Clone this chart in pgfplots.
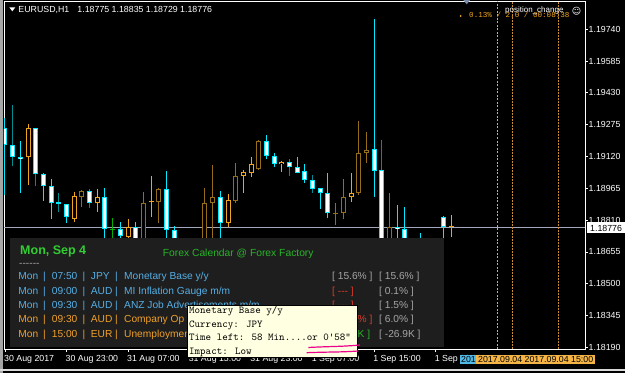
\documentclass[border=0pt]{standalone}
\usepackage{pgfplots}
\pgfplotsset{compat=1.18}
\usepackage{pgfplotstable}
\usepackage{fontspec}
\setmainfont{Liberation Sans}
\newfontfamily\dejavu{DejaVu Sans}
\newfontfamily\lmono{Liberation Mono}
\newcommand\fs[1]{\fontsize{#1}{#1}\selectfont}
\definecolor{bullc}{RGB}{0,235,255}
\definecolor{tealc}{RGB}{0,140,145}
\definecolor{bearc}{RGB}{240,165,30}
\definecolor{beard}{RGB}{150,110,25}
\definecolor{dojig}{RGB}{0,175,0}
\definecolor{bidc}{RGB}{160,168,185}
\definecolor{panel}{RGB}{30,30,30}
\definecolor{calblue}{RGB}{85,175,230}
\definecolor{calorange}{RGB}{240,160,40}
\definecolor{calgray}{RGB}{165,165,165}
\definecolor{calred}{RGB}{220,60,40}
\definecolor{calgreen}{RGB}{40,180,40}
\definecolor{titlegreen}{RGB}{50,205,50}
\definecolor{tipbg}{RGB}{255,255,225}
\definecolor{vlcyan}{RGB}{110,200,230}
\definecolor{vlorange}{RGB}{200,140,50}
\definecolor{boxblue}{RGB}{80,185,230}
\definecolor{boxorange}{RGB}{245,180,70}
\definecolor{tri}{RGB}{120,140,170}

% candles: x (bar index), high, body top, body bottom, low
\pgfplotstableread{
x h bt bb l
0 1.19308 1.19259 1.19176 1.18932
2 1.19196 1.19120 1.19110 1.18942
5 1.19039 1.19033 1.18976 1.18905
6 1.19010 1.18978 1.18892 1.18817
8 1.18887 1.18887 1.18827 1.18797
13 1.18965 1.18921 1.18765 1.18664
15 1.18801 1.18767 1.18733 1.18664
17 1.18801 1.18775 1.18664 1.18640
21 1.19049 1.18960 1.18762 1.18664
22 1.18781 1.18762 1.18664 1.18616
28 1.18952 1.18921 1.18794 1.18664
34 1.19225 1.19197 1.19122 1.19106
35 1.19136 1.19122 1.19082 1.19067
38 1.19119 1.19067 1.19041 1.19038
39 1.19084 1.19049 1.19005 1.18992
41 1.18965 1.18965 1.18941 1.18863
42 1.19041 1.18941 1.18843 1.18819
48 1.19790 1.19155 1.19051 1.18924
51 1.18884 1.18775 1.18765 1.18664
52 1.18875 1.18767 1.18664 1.18616
54 1.18749 1.18713 1.18640 1.18591
57 1.18830 1.18827 1.18775 1.18664
}\bullA
\pgfplotstableread{
x h bt bb l
1 1.19371 1.19176 1.19118 1.19074
4 1.19258 1.19258 1.19033 1.18976
7 1.18942 1.18896 1.18889 1.18851
11 1.18962 1.18952 1.18895 1.18870
37 1.19106 1.19092 1.19067 1.19026
40 1.19030 1.19005 1.18960 1.18944
49 1.19200 1.19054 1.18664 1.18616
}\bullB
\pgfplotstableread{
x h bt bb l
3 1.19278 1.19258 1.19116 1.18981
9 1.18948 1.18927 1.18817 1.18802
12 1.18962 1.18921 1.18895 1.18851
16 1.18814 1.18775 1.18729 1.18664
19 1.19025 1.18905 1.18898 1.18827
29 1.18937 1.18908 1.18794 1.18778
31 1.19054 1.19046 1.19025 1.18941
32 1.19119 1.19084 1.19041 1.19019
36 1.19100 1.19093 1.19082 1.19046
45 1.19038 1.18941 1.18921 1.18900
58 1.18835 1.18776 1.18775 1.18729
}\bearA
\pgfplotstableread{
x h bt bb l
10 1.18957 1.18952 1.18924 1.18875
18 1.18946 1.18892 1.18664 1.18616
20 1.18965 1.18960 1.18900 1.18797
26 1.18965 1.18892 1.18664 1.18616
27 1.19079 1.18921 1.18892 1.18664
30 1.19087 1.19025 1.18905 1.18892
33 1.19200 1.19197 1.19058 1.19054
43 1.18892 1.18846 1.18840 1.18786
44 1.19009 1.18921 1.18846 1.18814
46 1.19293 1.19136 1.18941 1.18932
47 1.19241 1.19152 1.19136 1.19087
50 1.18941 1.18775 1.18664 1.18616
}\bearB
\pgfplotstableread{
x h bt bb l
14 1.18819 1.18769 1.18764 1.18664
}\dojiG

\pgfplotsset{
  candle/.style 2 args={draw=none, forget plot, error bars/.cd, y dir=plus, y explicit,
    error mark=none, error bar style={draw=#1, line width=#2}},
}
\newcommand\candles[4]{%
  \addplot[candle={#2}{1pt}] table[x=x, y=l, y error expr=\thisrow{h}-\thisrow{l}] {#1};
  \addplot[candle={#3}{5pt}] table[x=x, y=bb, y error expr={max(\thisrow{bt}-\thisrow{bb},0.00005)}] {#1};
  \addplot[candle={#4}{3pt}] table[x=x, y expr=\thisrow{bb}+0.0000487, y error expr={max(\thisrow{bt}-\thisrow{bb}-0.0000975,0)}] {#1};
}
\tikzset{
  lab/.style={anchor=base west, inner sep=0pt},
  cal/.style={lab, font=\fs{10.2}},
  tip/.style={lab, text=black, font=\ttfamily\fs{10.5}},
}
\newcommand\calrow[8]{%
  \node[cal, text=#2] at (18.3,#1) {Mon};
  \node[cal, text=#2] at (43,#1) {|};
  \node[cal, text=#2] at (51.7,#1) {#3};
  \node[cal, text=#2] at (82.3,#1) {|};
  \node[cal, text=#2] at (90.7,#1) {#4};
  \node[cal, text=#2] at (114.8,#1) {|};
  \node[cal, text=#2] at (124,#1) {#5};
  \node[cal, text=#6] at (332,#1) {#7};
  \node[cal, text=calgray] at (379,#1) {#8};
}

\begin{document}
\begin{tikzpicture}
\useasboundingbox (0,0) rectangle (625pt,373pt);
\fill[black] (0,0) rectangle (625pt,373pt);
\begin{axis}[
  at={(4pt,24pt)}, anchor=south west,
  scale only axis, width=581pt, height=348pt,
  xmin=-0.13, xmax=75.42, ymin=1.181818, ymax=1.198779,
  axis line style={white, line width=0.8pt},
  xtick pos=left, ytick pos=right,
  tick align=outside, major tick length=3pt,
  tick style={white, line width=0.8pt},
  minor tick num=0,
  /pgf/number format/assume math mode=true,
  ytick={1.18190,1.18345,1.18500,1.18655,1.18810,1.18965,1.19120,1.19275,1.19430,1.19585,1.19740},
  yticklabels={1.18190,1.18345,1.18500,1.18655,1.18810,1.18965,1.19120,1.19275,1.19430,1.19585,1.19740},
  yticklabel style={font=\fs{8.8}, text=white, anchor=west, inner sep=0pt, xshift=0.5pt},
  xtick={0,8,16,24,32,40,48,56},
  xticklabels={30 Aug 2017,30 Aug 23:00,31 Aug 07:00,31 Aug 15:00,31 Aug 23:00,1 Sep 07:00,1 Sep 15:00,1 Sep 23:00},
  xticklabel style={font=\fs{8.8}, text=white, anchor=north west, inner sep=0pt, xshift=-1pt, yshift=-3pt},
]
\addplot[bidc, line width=0.9pt, forget plot] coordinates {(-0.13,1.18776) (75.42,1.18776)};
\candles{\bearB}{beard}{beard}{black}
\candles{\bullB}{tealc}{bullc}{white}
\candles{\bullA}{bullc}{bullc}{white}
\candles{\bearA}{bearc}{bearc}{black}
\candles{\dojiG}{dojig}{dojig}{dojig}
\addplot[vlcyan, line width=0.8pt, dash pattern=on 2pt off 1.5pt, forget plot] coordinates {(64,1.181818) (64,1.198779)};
\addplot[vlorange, line width=1.3pt, dash pattern=on 2pt off 1pt, forget plot] coordinates {(66,1.181818) (66,1.198779)};
\addplot[vlorange, line width=1.3pt, dash pattern=on 2pt off 1pt, forget plot] coordinates {(72,1.181818) (72,1.198779)};
\end{axis}
\begin{scope}[x=1pt, y=-1pt, shift={(0pt,373pt)}]
  % window borders
  \fill[gray!70] (0,0) rectangle (2.5,373);
  \fill[white!85!black] (0,369.3) rectangle (625,370.6);
  % header
  \fill[white] (9.3,7.3) -- (15.3,7.3) -- (12.3,11.3) -- cycle;
  \node[lab, text=white, font=\fs{8.8}] at (18.3,12.3) {EURUSD,H1};
  \node[lab, text=white, font=\fs{8.8}] at (77.3,12.3) {1.18775 1.18835 1.18729 1.18776};
  % top right
  \fill[tri] (463.3,0) -- (470.1,0) -- (466.7,4.3) -- cycle;
  \fill[bearc] (460.7,16) circle (1pt);
  \node[lab, text=bearc, font=\lmono\fs{7.6}] at (469,17.7) {0.13\% / 2.0 / 00:08:38};
  \node[lab, text=white, font=\fs{8}] at (505,12.7) {position\_change};
  \node[inner sep=0pt, text=white, font=\dejavu\fs{9}] at (576.5,11) {☺};
  % price label
  \fill[white] (586.5,222.3) rectangle (625,233.5);
  \node[lab, text=black, font=\fs{8.8}] at (590,231.3) {1.18776};
  % calendar panel
  \fill[panel] (10,238.3) rectangle (444,346.7);
  \node[lab, text=titlegreen, font=\bfseries\fs{12.5}] at (20,255) {Mon, Sep 4};
  \node[lab, text=calgreen, font=\fs{10.3}] at (162.7,256) {Forex Calendar @ Forex Factory};
  \node[cal, text=calgray] at (19,266.5) {-{}-{}-{}-{}-{}-};
  \calrow{280}{calblue}{07:50}{JPY}{Monetary Base y/y}{calgray}{[ 15.6\% ]}{[ 15.6\% ]}
  \calrow{294.3}{calblue}{09:00}{AUD}{MI Inflation Gauge m/m}{calred}{[ -{}-{}- ]}{[ 0.1\% ]}
  \calrow{308.6}{calblue}{09:30}{AUD}{ANZ Job Advertisements m/m}{calred}{[ -{}-{}- ]}{[ 1.5\% ]}
  \calrow{322.9}{calorange}{09:30}{AUD}{Company Op}{calred}{[ 10.9\% ]}{[ 6.0\% ]}
  \calrow{337.2}{calorange}{15:00}{EUR}{Unemploymen}{calgreen}{[ 12.5K ]}{[ -26.9K ]}
  % tooltip
  \filldraw[fill=tipbg, draw=black, line width=0.8pt] (187,305) rectangle (357.5,357.5);
  \node[tip] at (189,313.5) {Monetary Base y/y};
  \node[tip] at (189,327) {Currency: JPY};
  \node[tip] at (189,340.5) {Time left: 58 Min....or 0'58"};
  \node[tip] at (189,354) {Impact: Low};
  \draw[magenta, line width=1.2pt] (308.3,347.5) .. controls (330,346.3) and (340,346.8) .. (360,345);
  \draw[magenta, line width=1.2pt] (306.7,352.7) .. controls (330,351.8) and (340,352.3) .. (358.3,351);
  % bottom date boxes
  \fill[boxblue] (460,354.7) rectangle (476,363.7);
  \node[lab, text=black, font=\fs{8.8}] at (461,362.3) {201};
  \fill[boxorange] (476,354.7) rectangle (595,363.7);
  \node[lab, text=black, font=\fs{8.8}] at (478,362.3) {2017.09.04 2017.09.04 15:00};
\end{scope}
\end{tikzpicture}
\end{document}
